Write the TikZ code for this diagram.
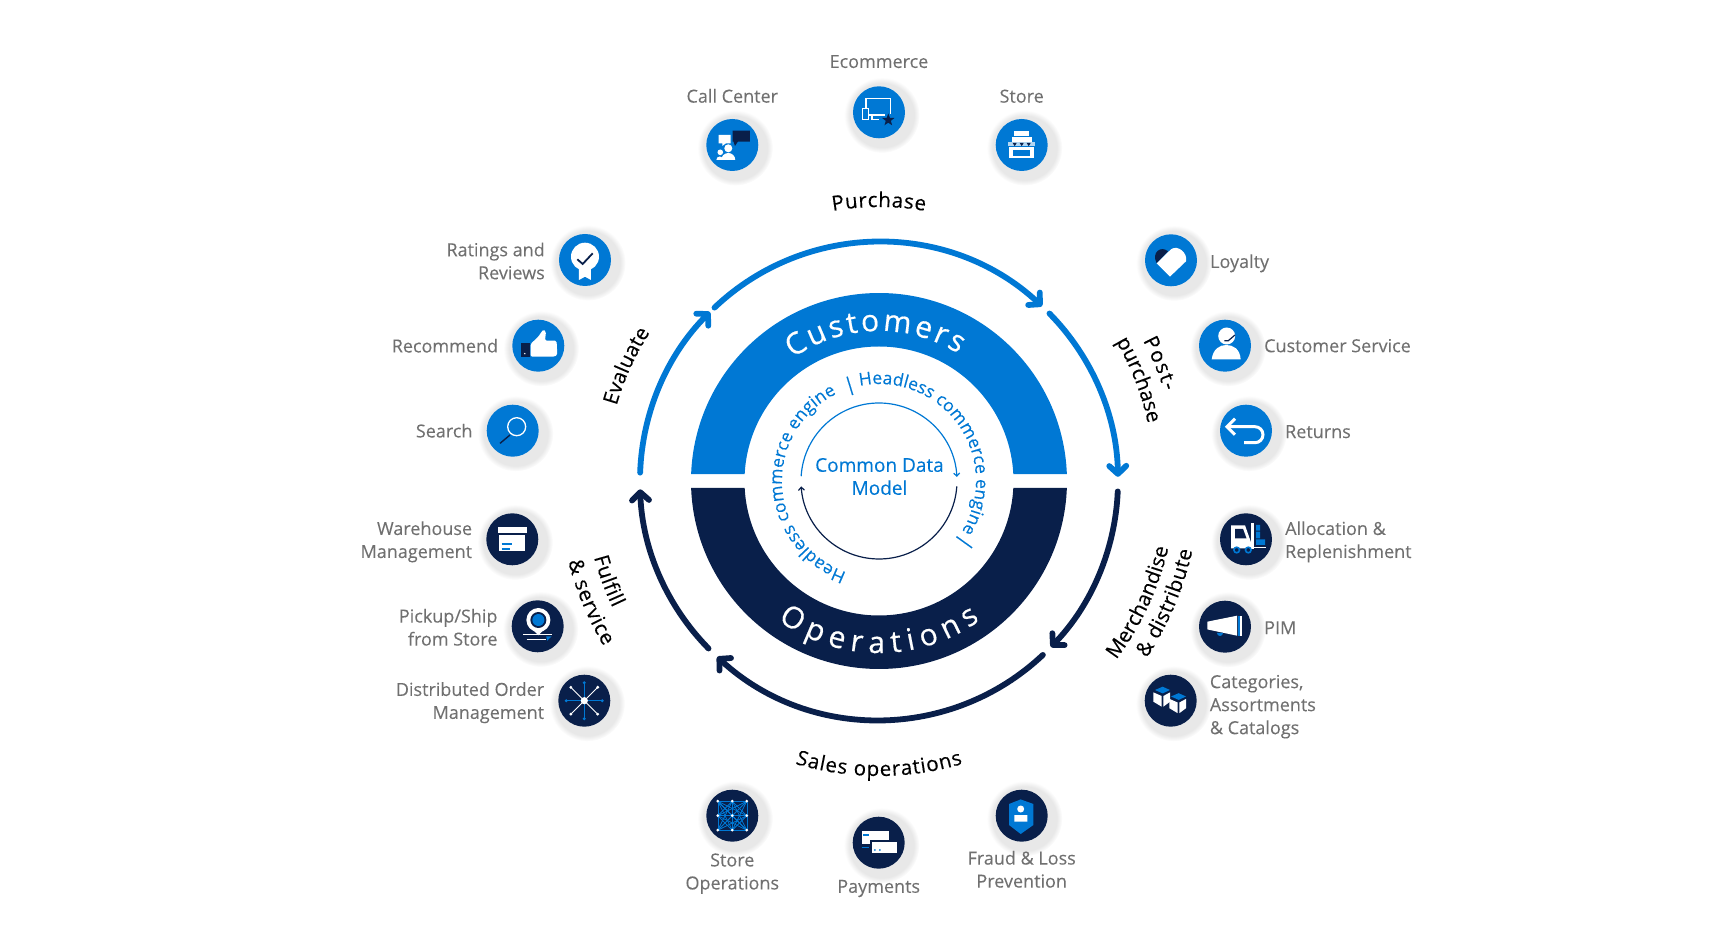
\documentclass[tikz,border=0pt]{standalone}
\usepackage{fontspec}
\setmainfont{Open Sans}[FakeBold=0.12]
\newfontfamily\bandfont{Open Sans}[FakeBold=0.5]
\newfontfamily\stagefont{Open Sans}[FakeBold=0.3]
\usetikzlibrary{positioning, arrows.meta, shadows, shapes.geometric, decorations.text}
\definecolor{custblue}{HTML}{0078D4}
\definecolor{opsnavy}{HTML}{091F4A}
\definecolor{labelgrey}{HTML}{707070}
\newcommand{\curvelabel}{\stagefont\fontsize{20.5}{23}\selectfont\color{black}}
\newcommand{\headless}{\fontsize{17.5}{21}\selectfont\color{custblue}}
\newcommand{\bandlabel}{\bandfont\fontsize{30}{32}\selectfont\color{white}}

\begin{document}
\begin{tikzpicture}[x=1pt, y=1pt, line cap=butt,
    >={Straight Barb[length=8pt, width=17pt, round]},
    icon/.style={circle, minimum size=52pt, inner sep=0pt, outer sep=0pt,
        circular drop shadow={shadow scale=1.45, shadow xshift=2pt, shadow yshift=-2pt, opacity=.09, fill=black}},
    custicon/.style={icon, fill=custblue},
    opsicon/.style={icon, fill=opsnavy},
    iconlabel/.style={text=labelgrey, inner sep=0pt, font=\fontsize{18}{23}\selectfont},
    rightlabel/.style={iconlabel, align=left},
    leftlabel/.style={iconlabel, align=right},
    midlabel/.style={iconlabel, align=center},
    custring/.style={->, custblue, line width=5.8pt, line cap=round},
    opsring/.style={->, opsnavy, line width=5.8pt, line cap=round},
    curved/.style={decorate, decoration={text along path, text align={fit to path}, text={#1}}}]

    \useasboundingbox (-879,-471) rectangle (832,481);

    % centre bands
    \fill[custblue] (2.13:188) arc[start angle=2.13, end angle=177.87, radius=188]
        -- (177.02:134.5) arc[start angle=177.02, end angle=2.98, radius=134.5] -- cycle;
    \fill[opsnavy] (-2.13:188) arc[start angle=-2.13, end angle=-177.87, radius=188]
        -- (-177.02:134.5) arc[start angle=-177.02, end angle=-2.98, radius=134.5] -- cycle;
    \path[curved={|\bandlabel|Customers}] (125:150) arc[start angle=125, end angle=58, radius=150];
    \path[curved={|\bandlabel|Operations}] (234:172) arc[start angle=234, end angle=306, radius=172];

    % inner circle
    \node[text=custblue, align=center, font=\fontsize{19}{23}\selectfont] (cdm) at (0.5,4.5) {Common Data\\Model};
    \coordinate (cdmtop) at (176.5:78);
    \coordinate (cdmbot) at (-4:78);
    \draw[->, custblue, line width=1.2pt, >={Straight Barb[length=3pt, width=6pt]}]
        (cdmtop) arc[start angle=176.5, end angle=3, radius=78];
    \draw[->, opsnavy, line width=1.2pt, >={Straight Barb[length=3pt, width=6pt]}]
        (cdmbot) arc[start angle=-4, end angle=-176, radius=78];
    \path[curved={|\headless|Headless commerce engine}] (101.5:97) arc[start angle=101.5, end angle=-30, radius=97];
    \path[curved={|\headless|Headless commerce engine}] (250.5:97) arc[start angle=250.5, end angle=116, radius=97];
    \node[text=custblue, rotate=17, inner sep=0pt, font=\fontsize{19}{21}\selectfont] (bartop) at (107:99.5) {|};
    \node[text=custblue, rotate=54.3, inner sep=0pt, font=\fontsize{19}{21}\selectfont] (barbot) at (-35.7:105) {|};

    % outer ring
    \coordinate (purchase) at (133.5:239);
    \coordinate (postpur) at (44.5:239);
    \coordinate (merch) at (-2.5:239);
    \coordinate (sales) at (-46.7:239);
    \coordinate (fulfill) at (224.5:239);
    \coordinate (evaluate) at (178:239);
    \draw[custring] (purchase) arc[start angle=133.5, end angle=47, radius=239];
    \draw[custring] (postpur) arc[start angle=44.5, end angle=1, radius=239];
    \draw[opsring] (merch) arc[start angle=-2.5, end angle=-44, radius=239];
    \draw[opsring] (sales) arc[start angle=-46.7, end angle=-132.6, radius=239];
    \draw[opsring] (fulfill) arc[start angle=224.5, end angle=182, radius=239];
    \draw[custring] (evaluate) arc[start angle=178, end angle=135, radius=239];

    % stage names
    \path[curved={|\curvelabel|Purchase}] (99.7:274) arc[start angle=99.7, end angle=80.3, radius=274];
    \path[curved={|\curvelabel|Post-}] (28:299) arc[start angle=28, end angle=17.5, radius=299];
    \path[curved={|\curvelabel|purchase}] (30.5:275) arc[start angle=30.5, end angle=12.8, radius=275];
    \path[curved={|\curvelabel|Merchandise}] (-37:297) arc[start angle=-37, end angle=-13, radius=297];
    \path[curved={|\curvelabel|{\&} distribute}] (-33.5:321) arc[start angle=-33.5, end angle=-12.5, radius=321];
    \path[curved={|\curvelabel|Sales operations}] (253.5:295) arc[start angle=253.5, end angle=286.5, radius=295];
    \path[curved={|\curvelabel|Fulfill}] (195:295) arc[start angle=195, end angle=205.5, radius=295];
    \path[curved={|\curvelabel|{\&} service}] (194.5:321) arc[start angle=194.5, end angle=211, radius=321];
    \path[curved={|\curvelabel|Evaluate}] (164:273) arc[start angle=164, end angle=147.5, radius=273];

    % top icons
    \node[custicon] (ecom) at (0,368.7) {};
    \node[custicon] (call) at (-146.7,336) {};
    \node[custicon] (shop) at (142.7,336) {};
    \node[midlabel, above=18pt of ecom] (ecomlabel) {Ecommerce};
    \node[midlabel, above=16pt of call] (calllabel) {Call Center};
    \node[midlabel, above=16pt of shop] (shoplabel) {Store};

    % left icons
    \node[custicon] (ratings) at (-294,221) {};
    \node[custicon] (recommend) at (-340.7,135.3) {};
    \node[custicon] (search) at (-366.3,50.3) {};
    \node[opsicon] (warehouse) at (-366.7,-58.3) {};
    \node[opsicon] (pickup) at (-341.3,-145.3) {};
    \node[opsicon] (orders) at (-294.7,-219.7) {};
    \node[leftlabel, left=14pt of ratings, yshift=-1pt] (ratingslabel) {Ratings and\\Reviews};
    \node[leftlabel, left=14pt of recommend] (recommendlabel) {Recommend};
    \node[leftlabel, left=14pt of search] (searchlabel) {Search};
    \node[leftlabel, left=14pt of warehouse, yshift=-2.5pt] (warehouselabel) {Warehouse\\Management};
    \node[leftlabel, left=14pt of pickup, yshift=-1pt] (pickuplabel) {Pickup/Ship\\from Store};
    \node[leftlabel, left=14pt of orders, yshift=-2pt] (orderslabel) {Distributed Order\\Management};

    % right icons
    \node[custicon] (loyalty) at (292,220.7) {};
    \node[custicon] (service) at (346,135.3) {};
    \node[custicon] (returns) at (367,50.3) {};
    \node[opsicon] (alloc) at (367,-58.3) {};
    \node[opsicon] (pim) at (346,-145.7) {};
    \node[opsicon] (catalog) at (291.7,-219.7) {};
    \node[rightlabel, right=13pt of loyalty, yshift=-3pt] (loyaltylabel) {Loyalty};
    \node[rightlabel, right=13pt of service] (servicelabel) {Customer Service};
    \node[rightlabel, right=13pt of returns, yshift=-1pt] (returnslabel) {Returns};
    \node[rightlabel, right=13pt of alloc, yshift=-2.5pt] (alloclabel) {Allocation \&\\Replenishment};
    \node[rightlabel, right=13pt of pim, yshift=-1pt] (pimlabel) {PIM};
    \node[rightlabel, right=13pt of catalog, yshift=-6pt] (cataloglabel) {Categories,\\Assortments\\\& Catalogs};

    % bottom icons
    \node[opsicon] (storeops) at (-146.7,-334.7) {};
    \node[opsicon] (payments) at (-0.3,-361.7) {};
    \node[opsicon] (fraud) at (142.7,-334.7) {};
    \node[midlabel, below=11.5pt of storeops] (storeopslabel) {Store\\Operations};
    \node[midlabel, below=11pt of payments] (paymentslabel) {Payments};
    \node[midlabel, below=9pt of fraud] (fraudlabel) {Fraud \& Loss\\Prevention};

    % icon glyphs
    \begin{scope}[shift={(call.center)}]
        \fill[opsnavy] (0.3,14.3) rectangle (17.7,3.3) (1,4) -- (2.7,-1) -- (6,4) -- cycle;
        \fill[white] (-13.7,10) rectangle (-1.7,1.7) (-10,2) -- (-10,-1) -- (-6,2) -- cycle;
        \fill[white] (-4,-3.3) circle (4) (-11,-15) arc[start angle=180, end angle=0, radius=7] -- cycle;
        \fill[white] (-12,-7.3) circle (2.8) (-16,-15) arc[start angle=180, end angle=0, radius=3.5] -- cycle;
    \end{scope}
    \begin{scope}[shift={(ecom.center)}, white, line width=1.4pt]
        \draw (-13,2) -- (-13,14) -- (11.7,14) -- (11.7,-1.5);
        \draw (-10,-2.7) -- (6,-2.7) (-7,-2.7) -- (-7,-7) -- (0,-7);
        \draw[fill=custblue] (-16.7,4) rectangle (-10.3,-7);
        \node[star, star points=5, star point ratio=2.4, fill=opsnavy, inner sep=0pt, minimum size=13pt] (ecomstar) at (9.3,-7.7) {};
    \end{scope}
    \begin{scope}[shift={(shop.center)}]
        \fill[white] (-7.7,14) rectangle (7.7,9);
        \fill[white] (-10,8.3) rectangle (10,3.3);
        \fill[white!70!custblue] (-13.3,3.3) rectangle (13.3,-0.7);
        \foreach \tx in {-7,0,7} \fill[opsnavy] (\tx-2,2) -- (\tx+2,2) -- (\tx,-1.2) -- cycle;
        \fill[white] (-12.3,-1.7) rectangle (12.3,-13.3);
        \fill[custblue] (-8.3,-5) rectangle (8.3,-11);
    \end{scope}
    \begin{scope}[shift={(ratings.center)}]
        \fill[white] (-6,-8) -- (6,-8) -- (6,-20) -- (0,-16.7) -- (-6,-20) -- cycle;
        \fill[white] (0,3.3) circle (14);
        \draw[opsnavy, line width=1.8pt] (-7.7,0.7) -- (-2.3,-4) -- (7.7,6.7);
    \end{scope}
    \begin{scope}[shift={(recommend.center)}]
        \fill[opsnavy] (-17.7,3) rectangle (-8.3,-11);
        \fill[white] (-13.5,-8) circle (0.8);
        \fill[white, rounded corners=1.5pt] (-7.7,1.7) -- (0,9) -- (5,16.3) -- (7.7,14) -- (6.7,5) -- (18.3,5) -- (19,-9.3) -- (16,-11) -- (-7.7,-11) -- cycle;
    \end{scope}
    \begin{scope}[shift={(search.center)}]
        \draw[white, line width=1.3pt] (4,4) circle (9);
        \draw[opsnavy, line width=1.4pt] (-2.7,-4.3) -- (-12.7,-12.7);
    \end{scope}
    \begin{scope}[shift={(warehouse.center)}]
        \fill[white] (-14.7,12) rectangle (14.7,6);
        \fill[white] (-13,4.3) rectangle (13,-11.7);
        \draw[custblue, line width=1.3pt] (-10.7,-4.7) -- (0,-4.7) (-10.7,-9.7) -- (-2,-9.7);
    \end{scope}
    \begin{scope}[shift={(pickup.center)}]
        \fill[white] (0.7,-9) -- (-9,1) -- (10.4,1) -- cycle;
        \fill[white] (0.7,6.3) circle (12);
        \fill[opsnavy] (0.7,6.3) circle (8);
        \fill[custblue] (0.7,6.3) circle (6);
        \draw[white, line width=1.3pt] (-14.5,-8) -- (14.5,-8) (-11,-13) -- (8,-13);
        \fill[custblue] (8.5,-10) -- (14,-10) -- (9.5,-14.5) -- cycle;
    \end{scope}
    \begin{scope}[shift={(orders.center)}]
        \foreach \ang in {45,135,225,315} {
            \draw[white, line width=0.9pt] (0,0) -- (\ang:19);
            \fill[white] (\ang:19) circle (1.6);
        }
        \foreach \ang in {0,90,180,270} {
            \draw[custblue, line width=0.9pt] (0,0) -- (\ang:18);
            \fill[custblue] (\ang:18) circle (1.6);
        }
        \fill[white] (0,0) circle (3.6);
    \end{scope}
    \begin{scope}[shift={(loyalty.center)}]
        \fill[opsnavy] (-14.3,-3) -- (-3,9) .. controls (-10,15) and (-20,8) .. cycle;
        \fill[white] (-1,-16.3) -- (-14.3,-3) -- (0,11) .. controls (7,16) and (17,7) .. (15,-1) -- cycle;
    \end{scope}
    \begin{scope}[shift={(service.center)}]
        \fill[white] (1.7,9.7) circle (8.5);
        \fill[white] (-13.3,-13.7) .. controls (-12,-3) and (-5,0.7) .. (1.2,0.7) .. controls (8,0.7) and (15,-3) .. (15.7,-13.7) -- cycle;
        \draw[opsnavy, line width=1.2pt] (10,10.7) -- (3.3,5) -- (-0.7,5);
    \end{scope}
    \begin{scope}[shift={(returns.center)}, white, line width=3pt]
        \draw (-11,12) -- (-19,4) -- (-11,-4);
        \draw (-18,4) -- (9,4) arc[start angle=90, end angle=-90, radius=8] -- (-2,-12);
    \end{scope}
    \begin{scope}[shift={(alloc.center)}]
        \fill[white] (-15,14) -- (-1,14) -- (5,-3) -- (5,-9) -- (-15,-9) -- cycle;
        \fill[opsnavy] (-11,10.5) -- (-3,10.5) -- (0.5,1) -- (-11,1) -- cycle;
        \fill[white] (5,16.7) rectangle (8.3,-10);
        \draw[white, line width=1.5pt] (8,-8) -- (19.7,-8);
        \fill[custblue] (10,14.3) rectangle (14,8.7) (10,7.7) rectangle (14,1) (10,0) rectangle (19,-5.7);
        \foreach \wx in {-9.3,2.3} \draw[custblue, fill=opsnavy, line width=1.6pt] (\wx,-10.7) circle (2.8);
    \end{scope}
    \begin{scope}[shift={(pim.center)}]
        \fill[white] (-17.7,5) -- (12,11) -- (12,-9) -- (-17.7,-2.7) -- cycle;
        \fill[custblue] (12.7,11) rectangle (14.5,-9);
        \fill[white] (15,11) rectangle (16.7,-9);
        \fill[custblue] (-8,-6.3) arc[start angle=180, end angle=360, radius=3] -- cycle;
    \end{scope}
    \begin{scope}[shift={(catalog.center)}]
        \foreach \cx/\cy in {0/0,16/-6.5} {
            \begin{scope}[shift={(\cx,\cy)}]
                \fill[custblue] (-15.7,10.7) -- (-8,14) -- (-0.7,10.7) -- (-8,7.3) -- cycle;
                \fill[white] (-17.3,8.3) -- (-9,4.7) -- (-9,-6) -- (-17.3,-1) -- cycle;
                \fill[white] (-7.3,4.7) -- (-0.7,8.3) -- (-0.7,-1) -- (-7.3,-6) -- cycle;
            \end{scope}
        }
    \end{scope}
    \begin{scope}[shift={(storeops.center)}]
        \foreach \ax in {-14.5,0,14.5} \foreach \ay in {-14.5,0,14.5}
            \foreach \bx in {-14.5,0,14.5} \foreach \by in {-14.5,0,14.5}
                \draw[custblue, line width=0.5pt] (\ax,\ay) -- (\bx,\by);
        \foreach \ax in {-14.5,0,14.5} \foreach \ay in {-14.5,0,14.5}
            \fill[white] (\ax,\ay) circle (1.5);
    \end{scope}
    \begin{scope}[shift={(payments.center)}]
        \fill[white] (-17,11.7) rectangle (10.7,-1);
        \draw[custblue, line width=1.5pt] (-15.3,7.7) -- (-9.7,7.7) (-17,-5) -- (-9.7,-5);
        \draw[opsnavy, fill=white, line width=1.3pt] (-7.7,1.7) rectangle (18.7,-11.3);
        \fill[custblue] (-3.7,-7.3) circle (1) (1.3,-7.3) circle (1);
    \end{scope}
    \begin{scope}[shift={(fraud.center)}]
        \fill[custblue] (-1,16.3) -- (-12.7,11.7) -- (-12.7,-9.3) -- (-1,-18.3) -- (11.7,-9.3) -- (11.7,11.7) -- cycle;
        \fill[white] (-1,6.7) circle (3.5) (-7.3,0.7) rectangle (5.7,-6);
    \end{scope}
\end{tikzpicture}
\end{document}
